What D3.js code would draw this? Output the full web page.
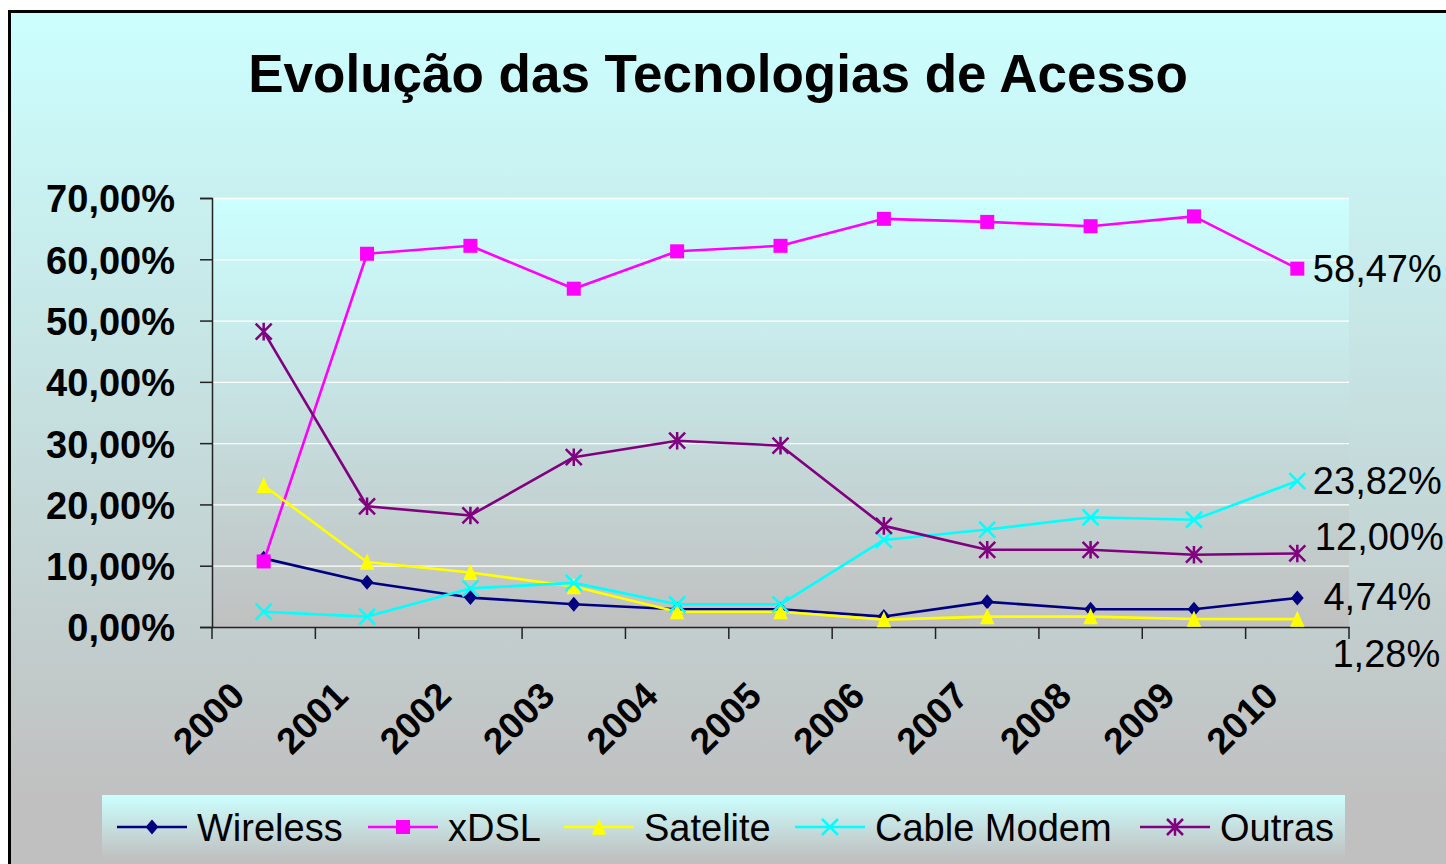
<!DOCTYPE html>
<html>
<head>
<meta charset="utf-8">
<script src="https://cdn.jsdelivr.net/npm/d3@7"></script>
<style>
  html, body { margin: 0; padding: 0; background: #ffffff; }
  svg { display: block; }
  text { font-family: Arial, "Liberation Sans", sans-serif; }
</style>
</head>
<body>
<svg id="chart" width="1446" height="864"></svg>
<script>
// ---- data ----
const years = ["2000","2001","2002","2003","2004","2005","2006","2007","2008","2009","2010"];
const seriesNames = ["Wireless","xDSL","Satelite","Cable Modem","Outras"];
const wireless   = [11.2, 7.3, 4.8, 3.7, 2.9, 2.9, 1.7, 4.1, 2.9, 2.9, 4.74];
const xdsl       = [10.7, 60.9, 62.2, 55.2, 61.3, 62.2, 66.6, 66.1, 65.4, 67.0, 58.47];
const satelite   = [23.1, 10.6, 8.9, 6.6, 2.5, 2.5, 1.2, 1.7, 1.7, 1.3, 1.28];
const cableModem = [2.5, 1.7, 6.3, 7.2, 3.7, 3.7, 14.2, 15.9, 17.9, 17.5, 23.82];
const outras     = [48.2, 19.7, 18.2, 27.7, 30.4, 29.6, 16.5, 12.6, 12.6, 11.8, 12.00];
const yTicks = [0, 10, 20, 30, 40, 50, 60, 70];
const titleText = "Evolução das Tecnologias de Acesso";

const seriesValues = [wireless, xdsl, satelite, cableModem, outras];
const colors = ["#000080", "#FF00FF", "#FFFF00", "#00FFFF", "#800080"];
const markers = ["diamond", "square", "triangle", "x", "asterisk"];
// end-label placement (style only)
const labelDy = [12, 13, 48, 13, -3];
const labelDx = [0, 0, 9, 0, 2];
const fmt = v => d3.format(".2f")(v).replace(".", ",") + "%";

const svg = d3.select("#chart");
const defs = svg.append("defs");

function vgrad(id, y1, y2, stops) {
  const g = defs.append("linearGradient").attr("id", id)
    .attr("gradientUnits", "userSpaceOnUse")
    .attr("x1", 0).attr("x2", 0).attr("y1", y1).attr("y2", y2);
  stops.forEach(s => g.append("stop").attr("offset", s[0]).attr("stop-color", s[1]));
}
vgrad("gOuter", 12, 800, [[0, "#CCFFFF"], [1, "#C0C0C0"]]);
vgrad("gPlot", 198, 627, [[0, "#CCFFFF"], [1, "#C0C0C0"]]);
vgrad("gLegend", 795, 858, [[0, "#CCFFFF"], [1, "#C0C0C0"]]);

// outer chart area
svg.append("rect").attr("x", 9.5).attr("y", 11.5).attr("width", 1460).attr("height", 880)
  .attr("fill", "url(#gOuter)").attr("stroke", "#000").attr("stroke-width", 3);

const margin = { left: 212, right: 1349, top: 198, bottom: 627 };
const x = d3.scaleBand().domain(years).range([margin.left, margin.right]);
const y = d3.scaleLinear().domain([0, 70]).range([margin.bottom, margin.top]);
const cx = d => x(d) + x.bandwidth() / 2;

// plot area
svg.append("rect").attr("x", margin.left).attr("y", margin.top)
  .attr("width", margin.right - margin.left).attr("height", margin.bottom - margin.top)
  .attr("fill", "url(#gPlot)");

// gridlines
svg.append("g").selectAll("line").data(yTicks.filter(t => t > 0)).join("line")
  .attr("x1", margin.left).attr("x2", margin.right)
  .attr("y1", d => y(d) + 0.5).attr("y2", d => y(d) + 0.5)
  .attr("stroke", "#ffffff").attr("stroke-width", 1.3);

// y axis
const yAxis = svg.append("g").attr("transform", `translate(${margin.left},0)`)
  .call(d3.axisLeft(y).tickValues(yTicks).tickSize(12).tickFormat(d => ""));
yAxis.select(".domain").attr("stroke", "#222").attr("stroke-width", 1.5);
yAxis.selectAll(".tick line").attr("stroke", "#222").attr("stroke-width", 1.5);

svg.append("g").selectAll("text").data(yTicks).join("text")
  .attr("x", 175).attr("y", d => y(d)).attr("dy", "0.38em")
  .attr("text-anchor", "end").attr("font-weight", "bold").attr("font-size", 38)
  .attr("fill", "#000").text(d => d3.format(".2f")(d).replace(".", ",") + "%");

// x axis
const xAxis = svg.append("g").attr("transform", `translate(0,${margin.bottom})`)
  .call(d3.axisBottom(x).tickSize(0).tickFormat(""));
xAxis.select(".domain").attr("stroke", "#222").attr("stroke-width", 1.5);
const bandEdges = years.map(d => x(d)).concat([margin.right]);
svg.append("g").selectAll("line").data(bandEdges).join("line")
  .attr("x1", d => d).attr("x2", d => d)
  .attr("y1", margin.bottom).attr("y2", margin.bottom + 12)
  .attr("stroke", "#222").attr("stroke-width", 1.5);

svg.append("g").selectAll("text").data(years).join("text")
  .attr("transform", d => `translate(${cx(d) - 17},${margin.bottom + 71}) rotate(-45)`)
  .attr("text-anchor", "end").attr("font-weight", "bold").attr("font-size", 37)
  .attr("fill", "#000").text(d => d);

// title
svg.append("text").attr("x", 718).attr("y", 92).attr("text-anchor", "middle")
  .attr("font-weight", "bold").attr("font-size", 53).attr("fill", "#000").text(titleText);

// marker drawing
function drawMarker(g, type, color, px, py, scale) {
  const s = scale || 1;
  if (type === "diamond") {
    const r = 7.5 * s;
    g.append("path").attr("d", `M${px},${py - r}L${px + r * 0.85},${py}L${px},${py + r}L${px - r * 0.85},${py}Z`)
      .attr("fill", color);
  } else if (type === "square") {
    const r = 7 * s;
    g.append("rect").attr("x", px - r).attr("y", py - r).attr("width", 2 * r).attr("height", 2 * r)
      .attr("fill", color);
  } else if (type === "triangle") {
    const r = 8.5 * s;
    g.append("path").attr("d", `M${px},${py - r}L${px + r * 0.85},${py + r * 0.9}L${px - r * 0.85},${py + r * 0.9}Z`)
      .attr("fill", color);
  } else if (type === "x") {
    const r = 8 * s;
    g.append("path").attr("d", `M${px - r},${py - r}L${px + r},${py + r}M${px - r},${py + r}L${px + r},${py - r}`)
      .attr("stroke", color).attr("stroke-width", 2.5).attr("fill", "none");
  } else if (type === "asterisk") {
    const r = 8 * s;
    g.append("path").attr("d", `M${px - r},${py - r}L${px + r},${py + r}M${px - r},${py + r}L${px + r},${py - r}M${px},${py - r * 1.1}L${px},${py + r * 1.1}`)
      .attr("stroke", color).attr("stroke-width", 2.5).attr("fill", "none");
  }
}

// series lines
const line = d3.line().x((d, i) => cx(years[i])).y(d => y(d));
[0, 1, 2, 3, 4].forEach(si => {
  const g = svg.append("g");
  g.append("path").attr("d", line(seriesValues[si]))
    .attr("fill", "none").attr("stroke", colors[si]).attr("stroke-width", 2.6)
    .attr("stroke-linejoin", "round");
  seriesValues[si].forEach((v, i) => drawMarker(g, markers[si], colors[si], cx(years[i]), y(v)));
});

// end labels
const last = years.length - 1;
svg.append("g").selectAll("text").data(seriesValues).join("text")
  .attr("x", (d, i) => cx(years[last]) + 80 + labelDx[i])
  .attr("y", (d, i) => y(d[last]) + labelDy[i])
  .attr("text-anchor", "middle").attr("font-size", 38).attr("fill", "#000")
  .text(d => fmt(d[last]));

// legend
svg.append("rect").attr("x", 102).attr("y", 795).attr("width", 1243).attr("height", 75)
  .attr("fill", "url(#gLegend)");
const legendLineX = [117, 368, 564, 795, 1140];
const legend = svg.append("g").selectAll("g").data(seriesNames).join("g")
  .attr("transform", (d, i) => `translate(${legendLineX[i]},827)`);
legend.append("line").attr("x1", 0).attr("x2", 70).attr("y1", 0).attr("y2", 0)
  .attr("stroke", (d, i) => colors[i]).attr("stroke-width", 2.6);
legend.each(function (d, i) { drawMarker(d3.select(this), markers[i], colors[i], 35, 0); });
legend.append("text").attr("x", 80).attr("y", 0).attr("dy", "0.36em")
  .attr("font-size", 38).attr("fill", "#000").text(d => d);
</script>
</body>
</html>
